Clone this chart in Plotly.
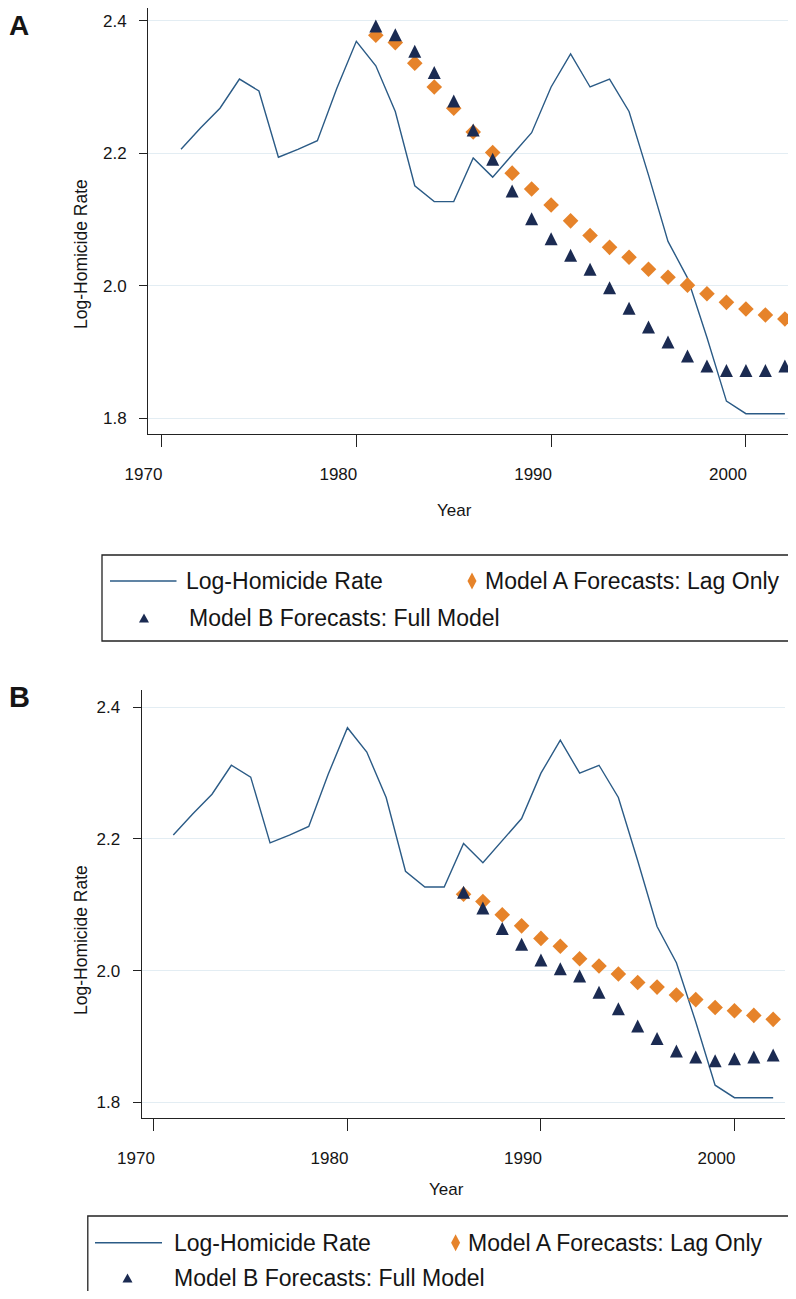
import plotly.graph_objects as go

# ---------------- data ----------------
years = list(range(1971, 2003))
log_homicide = [2.206, 2.238, 2.268, 2.312, 2.294, 2.194, 2.206, 2.219, 2.298, 2.369,
                2.332, 2.263, 2.151, 2.127, 2.127, 2.193, 2.164, 2.197, 2.231, 2.300,
                2.350, 2.300, 2.312, 2.263, 2.167, 2.067, 2.012, 1.922, 1.826, 1.807,
                1.807, 1.807]

years_fc_A = list(range(1981, 2003))
model_a_A = [2.378, 2.367, 2.336, 2.300, 2.268, 2.232, 2.201, 2.170, 2.146, 2.122, 2.098,
             2.076, 2.058, 2.043, 2.025, 2.013, 2.001, 1.988, 1.975, 1.965, 1.956, 1.950]
model_b_A = [2.392, 2.379, 2.354, 2.322, 2.279, 2.235, 2.191, 2.143, 2.101, 2.071, 2.046,
             2.025, 1.997, 1.966, 1.938, 1.915, 1.894, 1.879, 1.872, 1.872, 1.872, 1.879]

years_fc_B = list(range(1986, 2003))
model_a_B = [2.116, 2.105, 2.085, 2.068, 2.049, 2.037, 2.018, 2.007, 1.995, 1.982, 1.975,
             1.963, 1.956, 1.944, 1.939, 1.932, 1.926]
model_b_B = [2.119, 2.095, 2.064, 2.040, 2.016, 2.003, 1.992, 1.967, 1.942, 1.916, 1.897,
             1.878, 1.869, 1.863, 1.866, 1.869, 1.872]

x_ticks = [1970, 1980, 1990, 2000]
y_ticks = [1.8, 2.0, 2.2, 2.4]
y_tick_labels = ["1.8", "2.0", "2.2", "2.4"]

series_names = ["Log-Homicide Rate", "Model A Forecasts: Lag Only", "Model B Forecasts: Full Model"]
panel_labels = ["A", "B"]
x_title = "Year"
y_title = "Log-Homicide Rate"

# ---------------- style ----------------
OFF = 8                      # default page (body) margin of the html page
W, H = 796 - 2 * OFF, 1299 - 2 * OFF
LINE_C = "#2b5b86"
ORANGE = "#e6832a"
NAVY = "#1b2b52"
AXIS_C = "#222222"
GRID_C = "#e3edf3"
FONT = "Liberation Sans, Arial, Helvetica, sans-serif"
TXT_C = "#151515"


def px(x):
    return (x - OFF) / W


def py(y):
    return 1 - (y - OFF) / H


def clamp(v):
    return max(0.0, min(1.0, v))


fig = go.Figure()

panels = [
    dict(xa="x", ya="y", fc_years=years_fc_A, a=model_a_A, b=model_b_A),
    dict(xa="x2", ya="y2", fc_years=years_fc_B, a=model_a_B, b=model_b_B),
]
for p in panels:
    fig.add_trace(go.Scatter(x=years, y=log_homicide, mode="lines", name=series_names[0],
                             line=dict(color=LINE_C, width=1.4), xaxis=p["xa"], yaxis=p["ya"],
                             showlegend=False, cliponaxis=False))
    fig.add_trace(go.Scatter(x=p["fc_years"], y=p["a"], mode="markers", name=series_names[1],
                             marker=dict(symbol="diamond", size=12, color=ORANGE, line=dict(width=0)),
                             xaxis=p["xa"], yaxis=p["ya"], showlegend=False, cliponaxis=False))
    fig.add_trace(go.Scatter(x=p["fc_years"], y=p["b"], mode="markers", name=series_names[2],
                             marker=dict(symbol="arrow-down", angle=180, standoff=6.5, size=13,
                                         color=NAVY, line=dict(width=0)),
                             xaxis=p["xa"], yaxis=p["ya"], showlegend=False, cliponaxis=False))


def xaxis_cfg(domain, rng, anchor, shift):
    return dict(domain=domain, range=rng, anchor=anchor, tickmode="array", tickvals=x_ticks,
                ticks="outside", ticklen=12, tickwidth=1.1, tickcolor=AXIS_C,
                showline=True, linecolor=AXIS_C, linewidth=1.3, showgrid=False, zeroline=False,
                tickfont=dict(family=FONT, size=17, color=TXT_C), automargin=False,
                ticklabelshift=shift, ticklabelstandoff=12, fixedrange=True)


def yaxis_cfg(domain, rng, anchor):
    return dict(domain=domain, range=rng, anchor=anchor, tickmode="array", tickvals=y_ticks,
                ticktext=y_tick_labels, ticks="outside", ticklen=8, tickwidth=1.1, tickcolor=AXIS_C,
                showline=True, linecolor=AXIS_C, linewidth=1.3, showgrid=True, gridcolor=GRID_C,
                gridwidth=1, zeroline=False, tickfont=dict(family=FONT, size=17, color=TXT_C),
                automargin=False, ticklabelstandoff=9, fixedrange=True)


# panel A: the plot area touches the page's right and top edges
fig.update_layout(
    width=W, height=H, autosize=False, margin=dict(l=0, r=0, t=0, b=0, pad=0),
    paper_bgcolor="white", plot_bgcolor="white", showlegend=False,
    xaxis=xaxis_cfg([px(148.3), clamp(px(796))], [1969.321, 2002.16], "y", -18),
    yaxis=yaxis_cfg([py(434.3), clamp(py(3))], [1.7759, 2.4192], "x"),
    xaxis2=xaxis_cfg([px(141.7), px(785)], [1969.367, 2002.612], "y2", -18),
    yaxis2=yaxis_cfg([py(1118.3), py(690)], [1.7757, 2.4263], "x2"),
)

annotations = []
shapes = []


def text(x, y, s, size, anchor="left", angle=0, bold=False, color=TXT_C):
    annotations.append(dict(xref="paper", yref="paper", x=px(x), y=py(y), text=("<b>%s</b>" % s) if bold else s,
                            showarrow=False, xanchor=anchor, yanchor="middle", textangle=angle,
                            font=dict(family=FONT, size=size, color=color), borderpad=0))


# panel letters
text(19, 26, panel_labels[0], 28, anchor="center", bold=True)
text(19, 697, panel_labels[1], 29, anchor="center", bold=True)
# axis titles
text(455, 510, x_title, 17, anchor="center")
text(446, 1189, x_title, 17, anchor="center")
text(81, 254, y_title, 17.5, anchor="center", angle=-90)
text(81, 940, y_title, 17.5, anchor="center", angle=-90)


def legend_block(box, r1, r2, line_x, txt1_x, dia_x, txt2_x, tri_x, txt3_x):
    x0, y0, x1, y1 = box
    shapes.append(dict(type="rect", xref="paper", yref="paper", x0=px(x0), x1=px(x1), y0=py(y1), y1=py(y0),
                       line=dict(color=AXIS_C, width=1.3), fillcolor="rgba(0,0,0,0)"))
    shapes.append(dict(type="line", xref="paper", yref="paper", x0=px(line_x[0]), x1=px(line_x[1]),
                       y0=py(r1), y1=py(r1), line=dict(color=LINE_C, width=1.4)))
    # diamond glyph
    hw, hh = 4.5, 8.5
    shapes.append(dict(type="path", xref="paper", yref="paper", fillcolor=ORANGE, line=dict(width=0),
                       path="M %f,%f L %f,%f L %f,%f L %f,%f Z" % (
                           px(dia_x), py(r1 - hh), px(dia_x + hw), py(r1), px(dia_x), py(r1 + hh),
                           px(dia_x - hw), py(r1))))
    # triangle glyph
    tw, th = 5, 4.5
    shapes.append(dict(type="path", xref="paper", yref="paper", fillcolor=NAVY, line=dict(width=0),
                       path="M %f,%f L %f,%f L %f,%f Z" % (
                           px(tri_x), py(r2 - th), px(tri_x + tw), py(r2 + th), px(tri_x - tw), py(r2 + th))))
    text(txt1_x, r1, series_names[0], 23)
    text(txt2_x, r1, series_names[1], 23)
    text(txt3_x, r2, series_names[2], 23)


legend_block((102, 555, 810, 641), 581, 618, (110, 176.5), 185, 472, 484, 144, 188)
legend_block((87.8, 1216, 810, 1310), 1242.7, 1278, (95, 162), 172.5, 455.6, 467, 127.5, 172.5)

fig.update_layout(annotations=annotations, shapes=shapes)

fig.write_html("out.html")
